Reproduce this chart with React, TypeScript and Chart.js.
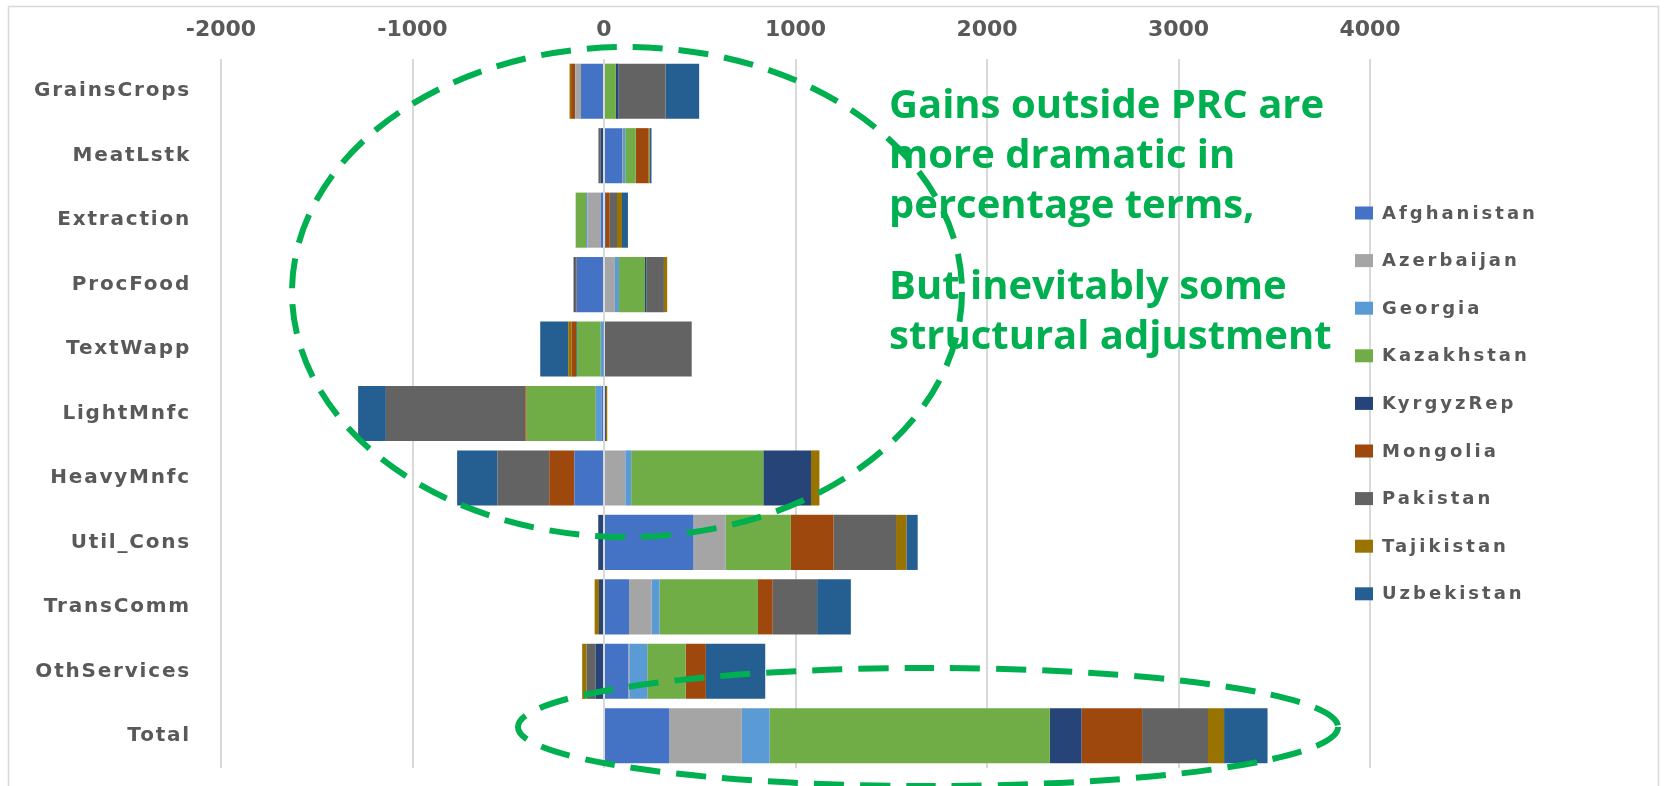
import { useEffect, useRef } from "react";
import Chart from "chart.js/auto";

const CATEGORIES = [
  "GrainsCrops",
  "MeatLstk",
  "Extraction",
  "ProcFood",
  "TextWapp",
  "LightMnfc",
  "HeavyMnfc",
  "Util_Cons",
  "TransComm",
  "OthServices",
  "Total",
];

const COUNTRIES = [
  "Afghanistan",
  "Azerbaijan",
  "Georgia",
  "Kazakhstan",
  "KyrgyzRep",
  "Mongolia",
  "Pakistan",
  "Tajikistan",
  "Uzbekistan",
];

const COLORS = [
  "#4472C4",
  "#A5A5A5",
  "#5B9BD5",
  "#70AD47",
  "#264478",
  "#9E480E",
  "#636363",
  "#997300",
  "#255E91",
];

const AFGHANISTAN = [-120, 94, -17, -143, -3, -12, -155, 467, 131, 127, 341];
const AZERBAIJAN = [-28, 5, -70, 57, 0, 0, 111, 169, 117, 5, 379];
const GEORGIA = [-3, 12, -7, 21, -14, -31, 31, 0, 42, 94, 145];
const KAZAKHSTAN = [62, 54, -54, 136, -125, -361, 690, 340, 514, 200, 1463];
const KYRGYZREP = [14, -17, 9, 7, -4, 10, 249, -30, -26, -44, 166];
const MONGOLIA = [-21, 66, 21, -8, -24, -7, -131, 223, 77, 106, 316];
const PAKISTAN = [246, -12, 38, 92, 458, -728, -270, 326, 232, -47, 344];
const TAJIKISTAN = [-8, 7, 26, 17, -17, 7, 44, 54, -23, -23, 84];
const UZBEKISTAN = [175, 10, 31, -8, -146, -145, -211, 59, 176, 310, 227];

const SERIES = [
  AFGHANISTAN,
  AZERBAIJAN,
  GEORGIA,
  KAZAKHSTAN,
  KYRGYZREP,
  MONGOLIA,
  PAKISTAN,
  TAJIKISTAN,
  UZBEKISTAN,
];

const X_MIN = -2000;
const X_MAX = 4000;
const X_STEP = 1000;

const ANNOTATION_BLOCK_1 = ["Gains outside PRC are", "more dramatic in", "percentage terms,"];
const ANNOTATION_BLOCK_2 = ["But inevitably some", "structural adjustment"];

const GREEN = "#00B050";
const TEXT_GRAY = "#595959";

const overlayPlugin = {
  id: "overlay",
  afterDatasetsDraw(chart: any) {
    // letter spacing for the category labels (drawn after datasets)
    chart.ctx.letterSpacing = "1.8px";
  },
  afterDraw(chart: any) {
    const ctx = chart.ctx as CanvasRenderingContext2D;
    (ctx as any).letterSpacing = "0px";
    ctx.save();

    // outer frame
    ctx.strokeStyle = "#D9D9D9";
    ctx.lineWidth = 1.5;
    ctx.strokeRect(8.5, 6.5, 1650, 800);

    // legend
    const datasets = chart.data.datasets;
    const lx = 1355;
    const ly0 = 213;
    const lstep = 47.6;
    (ctx as any).letterSpacing = "3px";
    ctx.font = 'bold 18px "DejaVu Sans"';
    ctx.textBaseline = "middle";
    ctx.textAlign = "left";
    datasets.forEach((ds: any, i: number) => {
      const y = ly0 + i * lstep;
      ctx.fillStyle = ds.backgroundColor;
      ctx.fillRect(lx, y - 6.5, 18, 13);
      ctx.fillStyle = TEXT_GRAY;
      ctx.fillText(ds.label, lx + 27, y + 1);
    });
    (ctx as any).letterSpacing = "0px";

    // annotation text
    ctx.fillStyle = GREEN;
    ctx.font = 'bold 40px "Open Sans"';
    ctx.textBaseline = "middle";
    ANNOTATION_BLOCK_1.forEach((t, i) => ctx.fillText(t, 889, 107 + i * 50));
    ANNOTATION_BLOCK_2.forEach((t, i) => ctx.fillText(t, 889, 288 + i * 50));

    // dashed ellipses
    ctx.strokeStyle = GREEN;
    ctx.lineWidth = 6;
    ctx.setLineDash([30, 16]);
    ctx.beginPath();
    ctx.ellipse(627, 292, 335, 245, 0, 0, Math.PI * 2);
    ctx.stroke();
    ctx.beginPath();
    ctx.ellipse(928, 727, 410, 59, 0, 0, Math.PI * 2);
    ctx.stroke();
    ctx.restore();
  },
};

export default function App() {
  const canvasRef = useRef<HTMLCanvasElement | null>(null);

  useEffect(() => {
    if (!canvasRef.current) return;
    const chart = new Chart(canvasRef.current, {
      type: "bar",
      data: {
        labels: CATEGORIES,
        datasets: COUNTRIES.map((name, i) => ({
          label: name,
          data: SERIES[i],
          backgroundColor: COLORS[i],
          borderWidth: 0,
          stack: "s",
          barPercentage: 0.855,
          categoryPercentage: 1,
        })),
      },
      options: {
        indexAxis: "y",
        animation: false,
        responsive: true,
        maintainAspectRatio: false,
        devicePixelRatio: 1,
        layout: { padding: { left: 0, top: 0, right: 297, bottom: 18 } },
        plugins: {
          legend: { display: false },
          tooltip: { enabled: false },
        },
        scales: {
          x: {
            type: "linear",
            position: "top",
            stacked: true,
            min: X_MIN,
            max: X_MAX,
            ticks: {
              stepSize: X_STEP,
              color: TEXT_GRAY,
              font: { family: "DejaVu Sans", size: 22, weight: "bold" },
              padding: 16,
              callback: (v: any) => String(v),
            },
            grid: { color: "#D9D9D9", lineWidth: 2, drawTicks: false },
            border: { display: false },
            afterFit(scale: any) {
              scale.height = 59;
              scale.paddingLeft = 0;
              scale.paddingRight = 0;
            },
          },
          y: {
            type: "category",
            stacked: true,
            ticks: {
              color: TEXT_GRAY,
              font: { family: "DejaVu Sans", size: 20, weight: "bold" },
              padding: 22,
              z: 1,
            },
            grid: { display: false },
            border: { display: false },
            afterFit(scale: any) {
              scale.width = 221;
              scale.paddingTop = 0;
              scale.paddingBottom = 0;
            },
          },
        },
      },
      plugins: [overlayPlugin],
    });
    return () => chart.destroy();
  }, []);

  return (
    <div
      style={{
        position: "fixed",
        left: 0,
        top: 0,
        width: 1667,
        height: 786,
        background: "#fff",
      }}
    >
      <canvas ref={canvasRef} />
    </div>
  );
}
